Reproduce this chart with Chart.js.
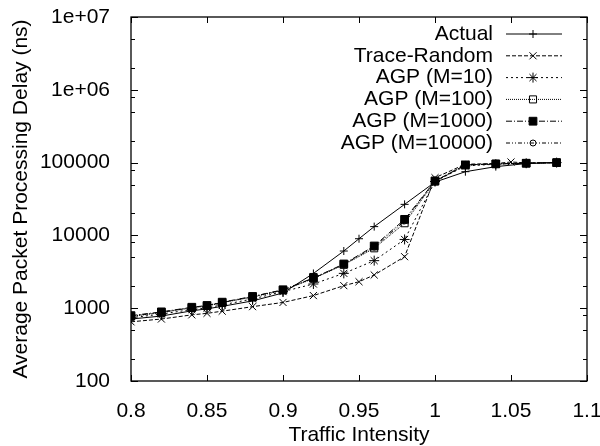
<!DOCTYPE html>
<html>
<head>
<meta charset="utf-8">
<script src="https://cdn.jsdelivr.net/npm/chart.js@4.4.0/dist/chart.umd.min.js"></script>
<style>
  body { margin: 0; background: #fff; }
</style>
</head>
<body>
<canvas id="myChart" width="600" height="446"></canvas>
<script>
// values (log scale, so rough)
const xActual = [0.8, 0.82, 0.84, 0.85, 0.86, 0.88, 0.9, 0.92, 0.94, 0.95, 0.96, 0.98, 1.0, 1.02, 1.04, 1.06, 1.08];
const actual = [710, 780, 920, 980, 1060, 1260, 1620, 3000, 6100, 9000, 13200, 26700, 54000, 75000, 88000, 97000, 100000];

const xTrace = [0.8, 0.82, 0.84, 0.85, 0.86, 0.88, 0.9, 0.92, 0.94, 0.95, 0.96, 0.98, 1.0, 1.02, 1.04, 1.05, 1.06, 1.08];
const traceRandom = [650, 710, 810, 850, 910, 1050, 1200, 1490, 2040, 2310, 2860, 5100, 62000, 95000, 97000, 102000, 99000, 100000];

const xAgp = [0.8, 0.82, 0.84, 0.85, 0.86, 0.88, 0.9, 0.92, 0.94, 0.96, 0.98, 1.0, 1.02, 1.04, 1.06, 1.08];
const agp10 = [740, 830, 960, 1010, 1110, 1340, 1690, 2150, 3010, 4500, 8800, 55000, 90000, 95000, 98000, 100000];
const agp100 = [770, 870, 1010, 1070, 1190, 1420, 1760, 2550, 3950, 6650, 14700, 55000, 92000, 96000, 98000, 100000];
const agp1000 = [790, 890, 1030, 1090, 1210, 1450, 1790, 2600, 4050, 7150, 16600, 56000, 93000, 96000, 98000, 100000];
const agp10000 = [780, 880, 1020, 1080, 1200, 1440, 1780, 2580, 4000, 6900, 15800, 56000, 93000, 96000, 98000, 100000];

const xTicks = [0.8, 0.85, 0.9, 0.95, 1.0, 1.05, 1.1];
const xTickLabels = ['0.8', '0.85', '0.9', '0.95', '1', '1.05', '1.1'];
const yTicks = [100, 1000, 10000, 100000, 1e6, 1e7];
const yTickLabels = ['100', '1000', '10000', '100000', '1e+06', '1e+07'];

const FONT = '"Liberation Sans", Arial, Helvetica, sans-serif';
const NONE = 'rgba(0,0,0,0)';

function pts(xs, ys) {
  return xs.map((v, i) => ({x: v, y: ys[i]}));
}

function series(label, xs, ys, dash, style, radius, fill) {
  return {
    label: label,
    data: pts(xs, ys),
    borderColor: '#000',
    borderWidth: 1,
    borderDash: dash,
    pointStyle: style,
    pointRadius: radius,
    pointBorderWidth: 1,
    pointBorderColor: '#000',
    pointBackgroundColor: fill,
    tension: 0,
    fill: false
  };
}

// gnuplot-like frame, inward ticks and legend
const frameAndLegend = {
  id: 'frameAndLegend',
  afterDraw(chart) {
    const {ctx, chartArea: a, scales: {x, y}} = chart;
    ctx.save();
    ctx.strokeStyle = '#000';
    ctx.lineWidth = 1;
    ctx.beginPath();
    xTicks.forEach(v => {
      const px = Math.round(x.getPixelForValue(v)) + 0.5;
      ctx.moveTo(px, a.bottom); ctx.lineTo(px, a.bottom - 6);
      ctx.moveTo(px, a.top); ctx.lineTo(px, a.top + 6);
    });
    yTicks.forEach(v => {
      const py = Math.round(y.getPixelForValue(v)) + 0.5;
      ctx.moveTo(a.left, py); ctx.lineTo(a.left + 7, py);
      ctx.moveTo(a.right, py); ctx.lineTo(a.right - 7, py);
    });
    yTicks.slice(0, -1).forEach(d => {
      [2, 5, 8].forEach(m => {
        const v = d * m;
        if (v >= 8e6) return;
        const py = Math.round(y.getPixelForValue(v)) + 0.5;
        ctx.moveTo(a.left, py); ctx.lineTo(a.left + 4, py);
        ctx.moveTo(a.right, py); ctx.lineTo(a.right - 4, py);
      });
    });
    ctx.stroke();
    ctx.lineWidth = 1.3;
    ctx.strokeRect(a.left, a.top, a.right - a.left, a.bottom - a.top);

    // legend, top right inside the plot
    ctx.font = '21px ' + FONT;
    ctx.textAlign = 'right';
    ctx.textBaseline = 'middle';
    chart.data.datasets.forEach((ds, i) => {
      const ly = a.top + 17 + i * 21.8;
      ctx.fillStyle = '#000';
      ctx.fillText(ds.label, a.right - 94, ly);
      ctx.save();
      ctx.lineWidth = 1;
      ctx.setLineDash(ds.borderDash);
      ctx.beginPath();
      ctx.moveTo(a.right - 81, ly);
      ctx.lineTo(a.right - 25, ly);
      ctx.stroke();
      ctx.restore();
      ctx.fillStyle = ds.pointBackgroundColor;
      ctx.strokeStyle = '#000';
      ctx.lineWidth = 1;
      Chart.helpers.drawPoint(ctx, {pointStyle: ds.pointStyle, radius: ds.pointRadius, borderWidth: 1, rotation: 0}, a.right - 54, ly);
    });
    ctx.restore();
  }
};

const ctx = document.getElementById('myChart');

new Chart(ctx, {
  type: 'line',
  data: {
    datasets: [
      series('Actual', xActual, actual, [], 'cross', 4, '#000'),
      series('Trace-Random', xTrace, traceRandom, [4, 2], 'crossRot', 5, '#000'),
      series('AGP (M=10)', xAgp, agp10, [2, 3], 'star', 5, '#000'),
      series('AGP (M=100)', xAgp, agp100, [1, 1], 'rect', 5, NONE),
      series('AGP (M=1000)', xAgp, agp1000, [6, 2, 1, 2], 'rect', 5.5, '#000'),
      series('AGP (M=10000)', xAgp, agp10000, [4, 2, 1, 2, 1, 2], 'circle', 3, NONE)
    ]
  },
  options: {
    responsive: false,
    animation: false,
    devicePixelRatio: 1,
    layout: {
      padding: {top: 17, right: 13, left: 0, bottom: 0}
    },
    plugins: {
      legend: {display: false},
      tooltip: {enabled: false}
    },
    scales: {
      x: {
        type: 'linear',
        min: 0.8,
        max: 1.1,
        afterBuildTicks: s => { s.ticks = xTicks.map(v => ({value: v})); },
        afterFit: s => { s.height = 65; s.paddingLeft = 0; s.paddingRight = 0; },
        grid: {display: false},
        border: {display: false},
        ticks: {
          autoSkip: false,
          maxRotation: 0,
          padding: 10,
          color: '#000',
          font: {family: FONT, size: 21},
          callback: (v, i) => xTickLabels[i]
        },
        title: {
          display: true,
          text: 'Traffic Intensity',
          color: '#000',
          font: {family: FONT, size: 21, lineHeight: 1},
          padding: {top: 0, bottom: 0}
        }
      },
      y: {
        type: 'logarithmic',
        min: 100,
        max: 1e7,
        afterBuildTicks: s => { s.ticks = yTicks.map(v => ({value: v})); },
        afterFit: s => { s.width = 131; s.paddingTop = 0; s.paddingBottom = 0; },
        grid: {display: false},
        border: {display: false},
        ticks: {
          autoSkip: false,
          padding: 13,
          color: '#000',
          font: {family: FONT, size: 21},
          callback: (v, i) => yTickLabels[i]
        },
        title: {
          display: true,
          text: 'Average Packet Processing Delay (ns)',
          color: '#000',
          font: {family: FONT, size: 21},
          padding: {top: 9, bottom: 0}
        }
      }
    }
  },
  plugins: [frameAndLegend]
});
</script>
</body>
</html>
